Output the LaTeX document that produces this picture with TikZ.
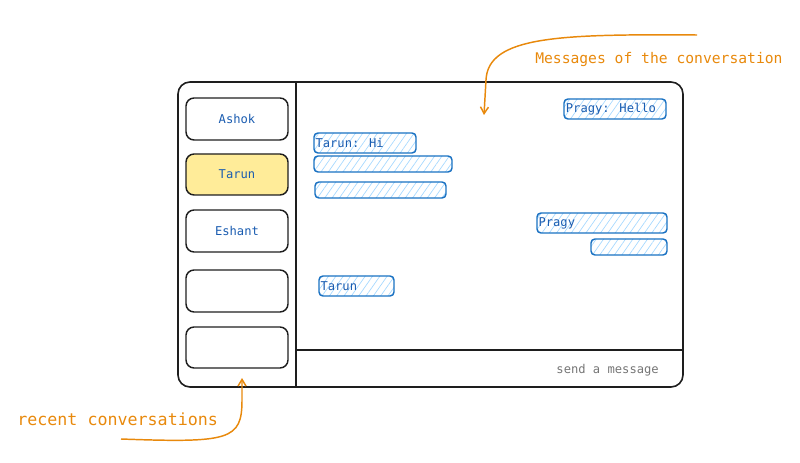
\documentclass[tikz,border=0pt]{standalone}
\usepackage{fontspec}
\newfontfamily\hand{DejaVu Sans Mono}
\usetikzlibrary{fit,patterns.meta,arrows.meta}
\definecolor{ink}{HTML}{1E1E1E}
\definecolor{blu}{HTML}{1971C2}
\definecolor{bltx}{HTML}{1A5CB0}
\definecolor{hatch}{HTML}{A5D8FF}
\definecolor{yel}{HTML}{FFEC99}
\definecolor{ora}{HTML}{E8890C}
\definecolor{gry}{HTML}{757575}
\tikzset{
  frame/.style={draw=ink, line width=1.2pt, rounded corners=9pt, inner sep=0pt},
  btn/.style={draw=ink, line width=1.1pt, rounded corners=6pt, inner sep=0pt},
  btntext/.style={text=bltx, inner sep=0pt, font=\hand\fontsize{9.1pt}{11pt}\selectfont},
  msg/.style={draw=blu, line width=1.1pt, rounded corners=3pt, inner sep=0pt,
    pattern={Lines[angle=55,distance=4.5pt,line width=0.5pt]}, pattern color=hatch},
  msgtext/.style={text=bltx, font=\hand\fontsize{9.1pt}{11pt}\selectfont, inner sep=1.5pt, anchor=west},
  note/.style={text=ora, inner sep=0pt},
  arr/.style={draw=ora, line width=1.1pt, -{Straight Barb[length=5pt,width=6pt]}}
}
\begin{document}
\begin{tikzpicture}[x=0.75pt,y=-0.75pt]
\useasboundingbox (0,0) rectangle (800,463);
% main frame
\node[frame, fit={(178,82)(683,387)}] (fr) {};
\draw[ink, line width=1.2pt] (296,82) -- (296,387);
\draw[ink, line width=1.2pt] (296,350) -- (683,350);
% conversation buttons
\node[btn, fit={(186,98)(288,140)}] (b1) {};
\node[btntext] at (b1.center) (t1) {Ashok};
\node[btn, fill=yel, fit={(186,154)(288,195)}] (b2) {};
\node[btntext] at (b2.center) (t2) {Tarun};
\node[btn, fit={(186,210)(288,252)}] (b3) {};
\node[btntext] at (b3.center) (t3) {Eshant};
\node[btn, fit={(186,270)(288,312)}] (b4) {};
\node[btn, fit={(186,327)(288,368)}] (b5) {};
% messages
\node[msg, fit={(564,99)(666,119)}] (m1) {};
\node[msgtext] at (m1.west) (mt1) {Pragy: Hello};
\node[msg, fit={(314,133)(416,153)}] (m2) {};
\node[msgtext] at (m2.west) (mt2) {Tarun: Hi};
\node[msg, fit={(314,156)(452,172)}] (m3) {};
\node[msg, fit={(315,182)(446,198)}] (m4) {};
\node[msg, fit={(537,213)(667,233)}] (m5) {};
\node[msgtext] at (m5.west) (mt5) {Pragy};
\node[msg, fit={(591,239)(667,255)}] (m6) {};
\node[msg, fit={(319,276)(394,296)}] (m7) {};
\node[msgtext] at (m7.west) (mt7) {Tarun};
% input
\node[text=gry, font=\hand\fontsize{9.1pt}{11pt}\selectfont, anchor=east, inner sep=0pt] (send) at (659,370) {send a message};
% annotations
\node[note, anchor=west, font=\hand\fontsize{11pt}{13pt}\selectfont] (lab1) at (535,60) {Messages of the conversation};
\coordinate (s1) at (697,35);
\coordinate (e1) at (484,115);
\draw[arr] (s1) .. controls (560,34) and (488,36) .. (486,80) -- (e1);
\node[note, anchor=west, font=\hand\fontsize{12.5pt}{14pt}\selectfont] (lab2) at (17,419) {recent conversations};
\coordinate (s2) at (121,439);
\coordinate (e2) at (242,378);
\draw[arr] (s2) .. controls (230,443) and (242,440) .. (242,400) -- (e2);
\end{tikzpicture}
\end{document}
